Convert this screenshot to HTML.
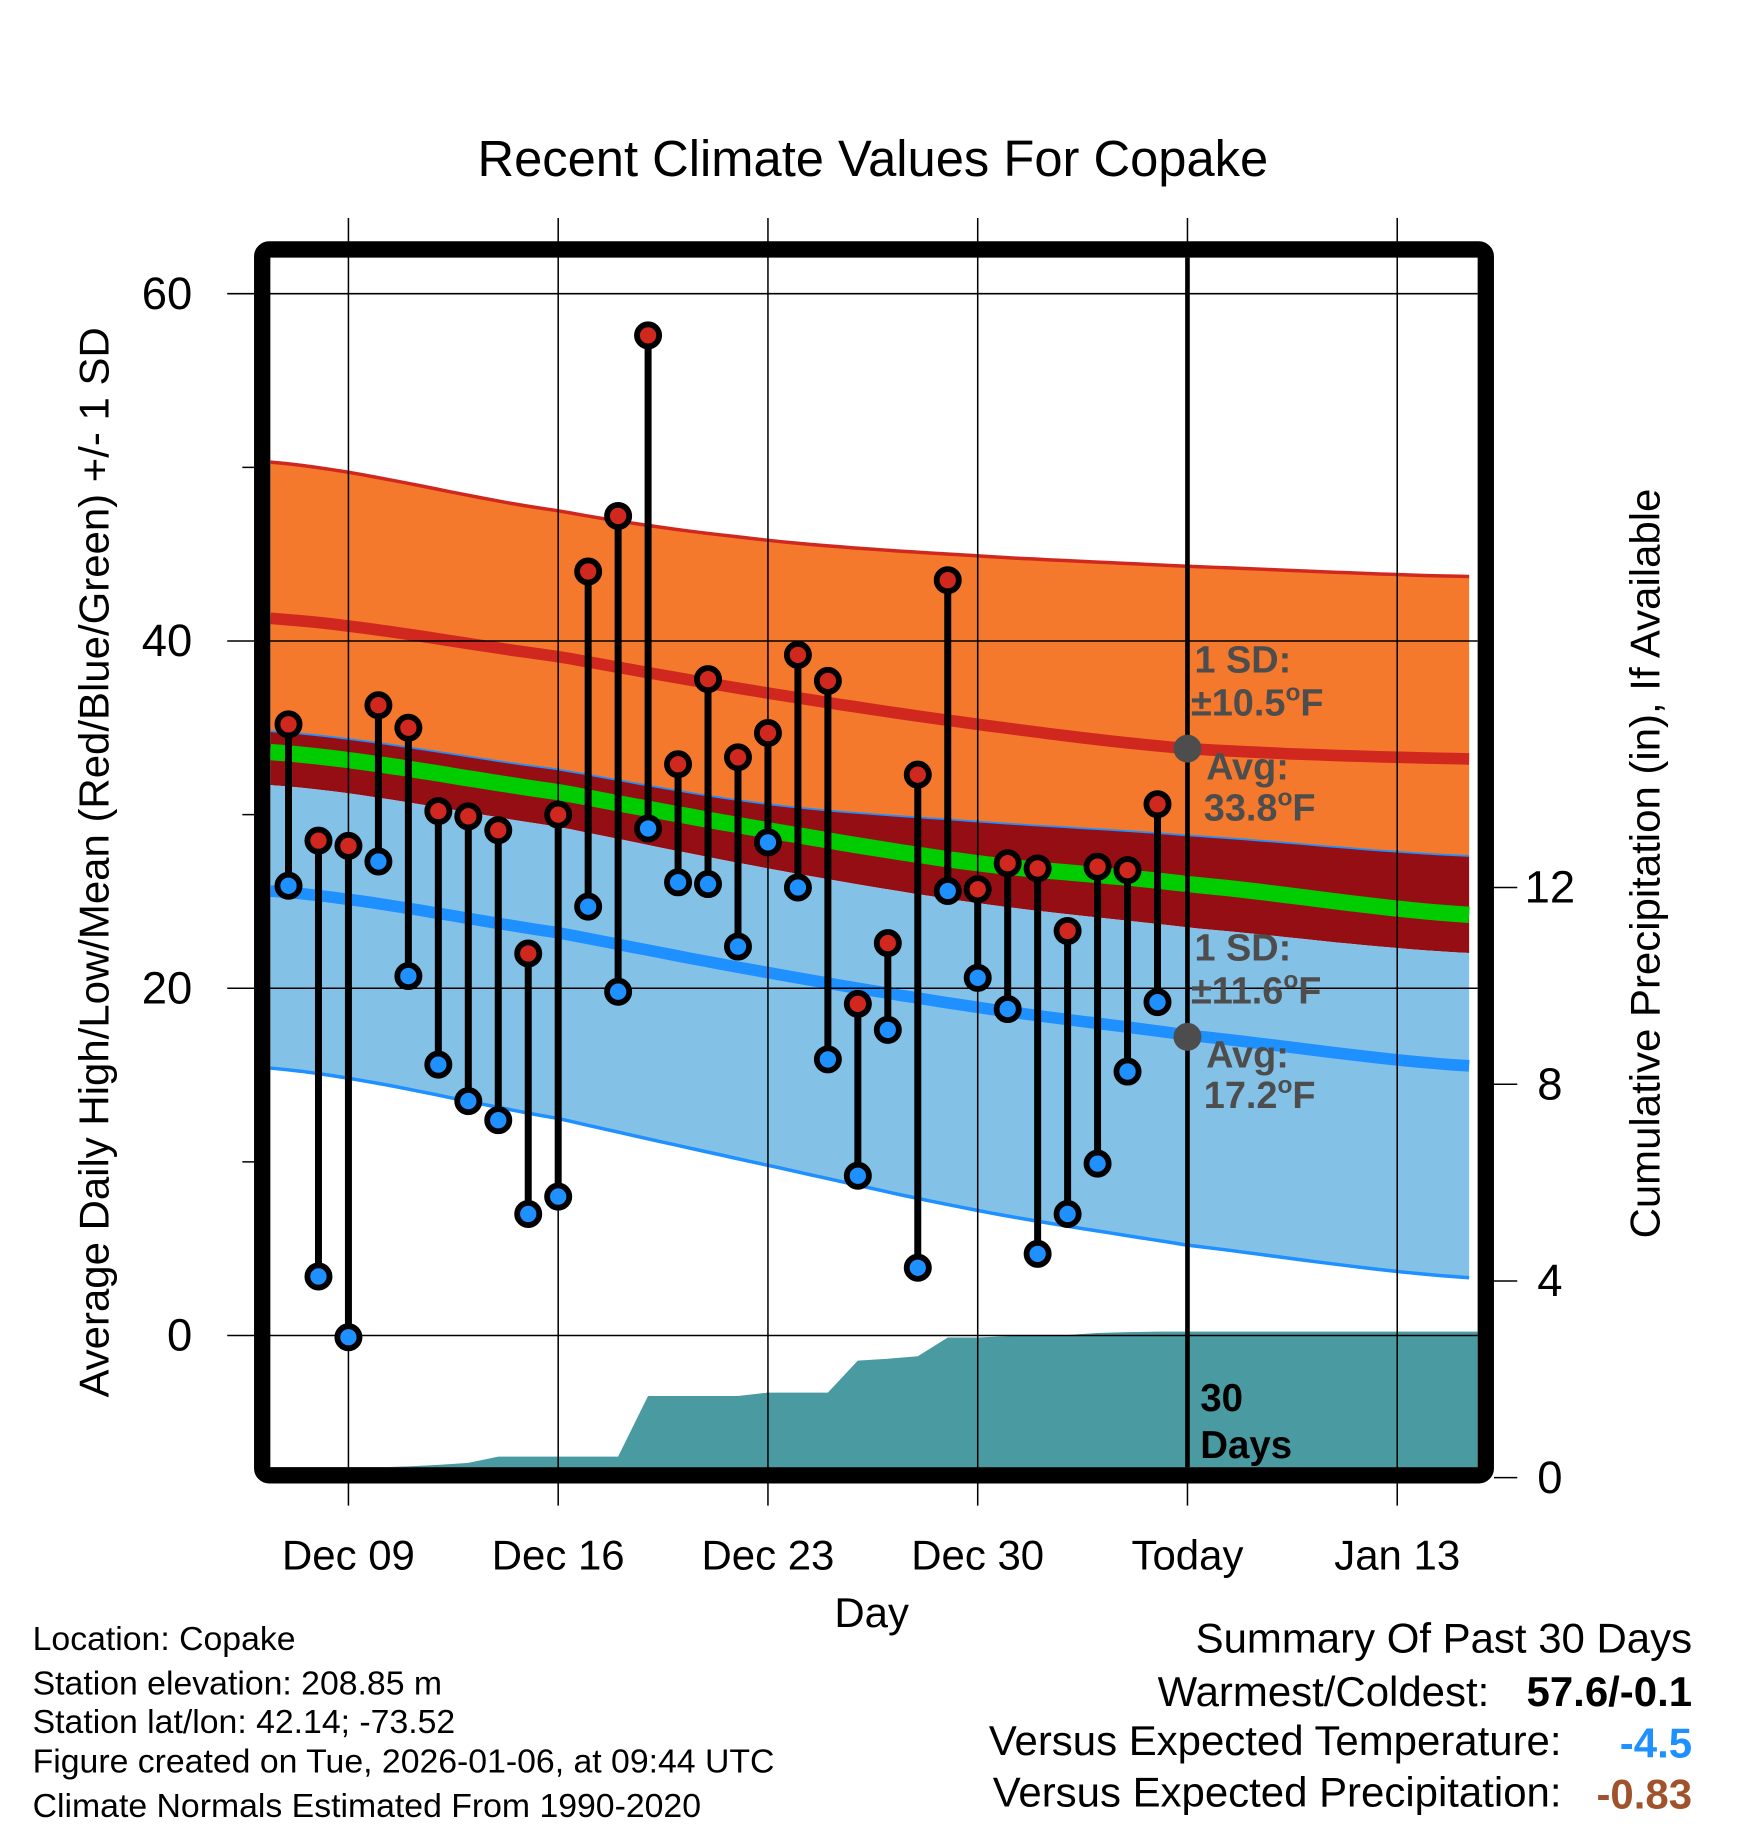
<!DOCTYPE html>
<html><head><meta charset="utf-8"><style>
html,body{margin:0;padding:0;background:#fff}
svg{display:block;font-family:"Liberation Sans",sans-serif}
</style></head><body>
<svg id="chart" width="1748" height="1828" viewBox="0 0 1500 1568.6" xmlns="http://www.w3.org/2000/svg">
<rect width="1500" height="1568.6" fill="#fff"/>
<g id="plot"></g>
<text x="749" y="151" font-size="43.5" text-anchor="middle">Recent Climate Values For Copake</text>
<text transform="translate(93,740) rotate(-90)" font-size="36" text-anchor="middle">Average Daily High/Low/Mean (Red/Blue/Green) +/- 1 SD</text>
<text transform="translate(1424,741) rotate(-90)" font-size="36" text-anchor="middle">Cumulative Precipitation (in), If Available</text>
<text x="748" y="1396" font-size="36" text-anchor="middle">Day</text>
<g font-size="29">
<text x="28" y="1416">Location: Copake</text>
<text x="28" y="1454">Station elevation: 208.85 m</text>
<text x="28" y="1487">Station lat/lon: 42.14; -73.52</text>
<text x="28" y="1521">Figure created on Tue, 2026-01-06, at 09:44 UTC</text>
<text x="28" y="1559">Climate Normals Estimated From 1990-2020</text>
</g>
<g font-size="36" text-anchor="end">
<text x="1452" y="1418">Summary Of Past 30 Days</text>
<text x="1278" y="1464">Warmest/Coldest:</text>
<text x="1452" y="1464" font-weight="bold">57.6/-0.1</text>
<text x="1340" y="1506">Versus Expected Temperature:</text>
<text x="1452" y="1508" font-weight="bold" fill="#1e90ff">-4.5</text>
<text x="1340" y="1550">Versus Expected Precipitation:</text>
<text x="1452" y="1552" font-weight="bold" fill="#a0522d">-0.83</text>
</g>
</svg>
<script>
// data
const days = [-2,-1,0,1,2,3,4,5,6,7,8,9,10,11,12,13,14,15,16,17,18,19,20,21,22,23,24,25,26,27];
const highs = [35.2,28.5,28.2,36.3,35.0,30.2,29.9,29.1,22.0,30.0,44.0,47.2,57.6,32.9,37.8,33.3,34.7,39.2,37.7,19.1,22.6,32.3,43.5,25.7,27.2,26.9,23.3,27.0,26.8,30.6];
const lows = [25.9,3.4,-0.1,27.3,20.7,15.6,13.5,12.4,7.0,8.0,24.7,19.8,29.2,26.1,26.0,22.4,28.4,25.8,15.9,9.2,17.6,3.9,25.6,20.6,18.8,4.7,7.0,9.9,15.2,19.2];
const precip = [0.2,0.2,0.2,0.21,0.23,0.26,0.3,0.43,0.43,0.43,0.43,0.43,1.66,1.66,1.66,1.66,1.73,1.73,1.73,2.38,2.42,2.47,2.85,2.85,2.88,2.9,2.9,2.94,2.96,2.97];
const normDays = [-2.6,7,14,21,28,37.7];
const highPlusSD = [50.3,47.5,45.8,44.9,44.3,43.7];
const highAvg = [41.3,39.1,37.0,35.2,33.8,33.2];
const highMinusSD = [34.8,32.6,30.6,29.6,28.8,27.6];
const meanAvg = [33.6,31.3,29.1,27.2,26.0,24.2];
const lowPlusSD = [31.7,29.3,26.9,24.9,23.5,22.0];
const lowAvg = [25.6,23.2,20.9,18.9,17.3,15.5];
const lowMinusSD = [15.4,12.5,9.8,7.2,5.2,3.3];
const yTicks = [0,20,40,60];
const yMinor = [10,30,50];
const pTicks = [0,4,8,12];
const xTickDays = [0,7,14,21,28,35];
const xTickLabels = ["Dec 09","Dec 16","Dec 23","Dec 30","Today","Jan 13"];

const NS="http://www.w3.org/2000/svg";
const X0=232,X1=1268,Y0=221,Y1=1259;
const xs=d=>299+25.714*d;
const ys=v=>1146-14.9*v;
const ps=v=>1268-42.2*v;
const g=document.getElementById('plot');
function el(tag,attrs,parent){const e=document.createElementNS(NS,tag);for(const k in attrs)e.setAttribute(k,attrs[k]);(parent||g).appendChild(e);return e;}
function interp(arr,d){
  for(let i=0;i<normDays.length-1;i++){
    if(d<=normDays[i+1]){
      const t=(d-normDays[i])/(normDays[i+1]-normDays[i]);
      const p0=arr[Math.max(0,i-1)],p1=arr[i],p2=arr[i+1],p3=arr[Math.min(arr.length-1,i+2)];
      return 0.5*((2*p1)+(-p0+p2)*t+(2*p0-5*p1+4*p2-p3)*t*t+(-p0+3*p1-3*p2+p3)*t*t*t);
    }
  }
  return arr[arr.length-1];
}
function samples(){const s=[];for(let d=normDays[0];d<=normDays[normDays.length-1]+0.001;d+=0.5)s.push(d);return s;}
function linePts(arr){return samples().map(d=>xs(d).toFixed(1)+','+ys(interp(arr,d)).toFixed(1));}
const clip=el('clipPath',{id:'pc'});el('rect',{x:X0,y:Y0,width:X1-X0,height:Y1-Y0},clip);
const inner=el('g',{'clip-path':'url(#pc)'});
(function(){
  function bandIn(a,b,fill,name){const p=linePts(a).concat(linePts(b).reverse());const e=el('polygon',{points:p.join(' '),fill:fill},inner);}
  function lineIn(a,stroke,w,name){const e=el('polyline',{points:linePts(a).join(' '),fill:'none',stroke:stroke,'stroke-width':w},inner);}
  bandIn(highPlusSD,highMinusSD,'#f5792c','high-sd-band');
  bandIn(highMinusSD,lowPlusSD,'#940e14','overlap-band');
  bandIn(lowPlusSD,lowMinusSD,'#83c1e6','low-sd-band');
  lineIn(highPlusSD,'#d0281f',3,'high-plus-sd-line');
  lineIn(highMinusSD,'#1e90ff',1.5,'high-minus-sd-line');
  lineIn(lowMinusSD,'#1e90ff',3,'low-minus-sd-line');
  lineIn(highAvg,'#d0281f',10,'avg-high-line');
  lineIn(meanAvg,'#00cc00',14,'avg-mean-line');
  lineIn(lowAvg,'#1e90ff',10,'avg-low-line');
  const pp=[];
  pp.push(X0+','+Y1);
  pp.push(X0+','+ps(precip[0]).toFixed(1));
  days.forEach((d,i)=>pp.push(xs(d).toFixed(1)+','+ps(precip[i]).toFixed(1)));
  pp.push(X1+','+ps(precip[precip.length-1]).toFixed(1));
  pp.push(X1+','+Y1);
  const pa=el('polygon',{points:pp.join(' '),fill:'#4a9aa2'},inner);
  
  
})();
yTicks.forEach(v=>{
  const l=el('line',{x1:195,x2:X1,y1:ys(v),y2:ys(v),stroke:'#000','stroke-width':1.3});
  
  
  const t=el('text',{x:165,y:ys(v)+13,'font-size':39,'text-anchor':'end'});t.textContent=v;
  
  
});
yMinor.forEach(v=>{el('line',{x1:208,x2:222,y1:ys(v),y2:ys(v),stroke:'#000','stroke-width':1.3});});
xTickDays.forEach((d,i)=>{
  const l=el('line',{x1:xs(d),x2:xs(d),y1:187,y2:1292,stroke:'#000','stroke-width':1.3});
  
  
  const t=el('text',{x:xs(d),y:1347,'font-size':36,'text-anchor':'middle'});t.textContent=xTickLabels[i];
  
  
});
pTicks.forEach(v=>{
  el('line',{x1:1282,x2:1302,y1:ps(v),y2:ps(v),stroke:'#000','stroke-width':1.3});
  const t=el('text',{x:1330,y:ps(v)+13,'font-size':39,'text-anchor':'middle'});t.textContent=v;
  
  
});
const tl=el('line',{x1:xs(28),x2:xs(28),y1:Y0,y2:Y1,stroke:'#000','stroke-width':4});


days.forEach((d,i)=>{
  const s=el('line',{x1:xs(d),x2:xs(d),y1:ys(highs[i]),y2:ys(lows[i]),stroke:'#000','stroke-width':6});
  
  
});
days.forEach((d,i)=>{
  const h=el('circle',{cx:xs(d),cy:ys(highs[i]),r:9.5,fill:'#d0281f',stroke:'#000','stroke-width':5});
  
  
  const l=el('circle',{cx:xs(d),cy:ys(lows[i]),r:9.5,fill:'#1e90ff',stroke:'#000','stroke-width':5});
  
  
});
const d1=el('circle',{cx:xs(28),cy:ys(33.8),r:12,fill:'#4d4d4d'});


const d2=el('circle',{cx:xs(28),cy:ys(17.2),r:12,fill:'#4d4d4d'});


const sup="<tspan font-size='21' dy='-13'>o</tspan><tspan dy='13'>F</tspan>";
const ann=[["1 SD:",1025,577,'high-sd-label'],["±10.5"+sup,1022,614,'high-sd-value'],["Avg:",1035,669,'avg-high-label'],["33.8"+sup,1033,704,'avg-high-value'],
["1 SD:",1025,824,'low-sd-label'],["±11.6"+sup,1022,861,'low-sd-value'],["Avg:",1035,916,'avg-low-label'],["17.2"+sup,1033,951,'avg-low-value']];
ann.forEach(a=>{const t=el('text',{x:a[1],y:a[2],'font-size':32.5,'font-weight':'bold',fill:'#4d4d4d'});t.innerHTML=a[0];

});
const t30=el('text',{x:1030,y:1211,'font-size':33,'font-weight':'bold'});t30.innerHTML="30";


const tdy=el('text',{x:1030,y:1251,'font-size':33,'font-weight':'bold'});tdy.innerHTML="Days";


const fr=el('rect',{x:225,y:214,width:1050,height:1052,rx:6,fill:'none',stroke:'#000','stroke-width':14});


</script>
</body></html>
